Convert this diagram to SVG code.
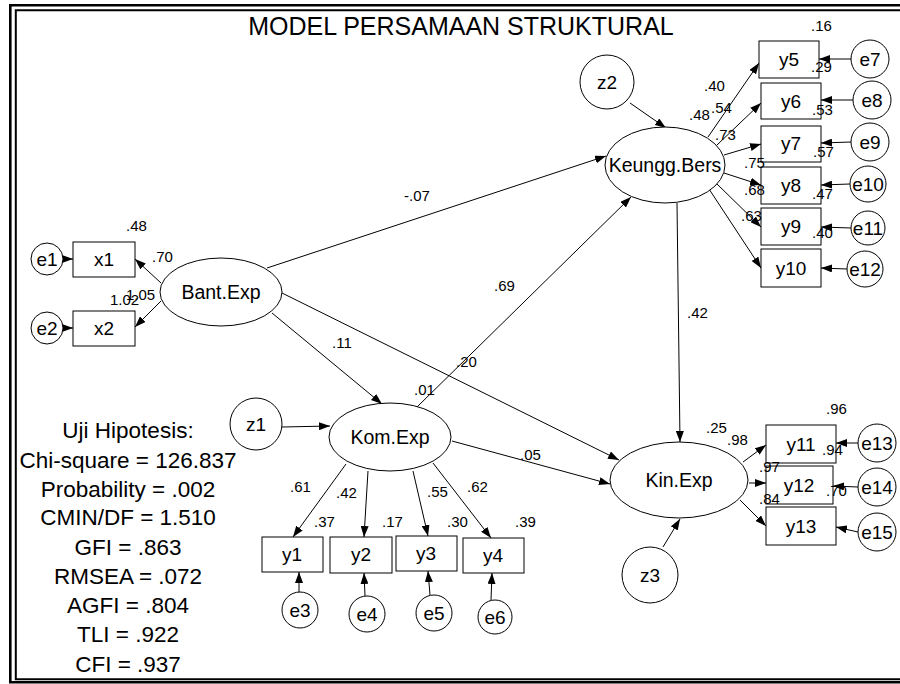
<svg xmlns="http://www.w3.org/2000/svg" width="900" height="684" viewBox="0 0 900 684">
<style>
  text { font-family: "Liberation Sans", Arial, sans-serif; fill: #000; }
  .shape { fill: #fff; stroke: #000; stroke-width: 1; }
  .lat { font-size: 19.5px; text-anchor: middle; }
  .obs { font-size: 19px; text-anchor: middle; }
  .err { font-size: 19px; text-anchor: middle; }
  .lbl { font-size: 15px; }
  .stat { font-size: 22.5px; text-anchor: middle; }
  #connectors line { stroke: #000; stroke-width: 1; marker-end: url(#ah); }
</style>
<defs>
  <marker id="ah" markerWidth="11" markerHeight="8" refX="11" refY="4" orient="auto" markerUnits="userSpaceOnUse">
    <path d="M0,0 L11,4 L0,8 z" fill="#000"/>
  </marker>
</defs>
<rect x="0" y="0" width="900" height="684" fill="#fff"/>
<g id="frame" fill="none" stroke="#000">
  <path d="M900,5.3 H10.3 V682.3 H900" stroke-width="2.6"/>
  <path d="M900,10.3 H15.8 V679.3 H900" stroke-width="2"/>
</g>
<text x="461" y="35" style="font-size:25px;text-anchor:middle">MODEL PERSAMAAN STRUKTURAL</text>

<g id="connectors">
  <line x1="161" y1="283" x2="135" y2="259"/>
  <line x1="161" y1="301" x2="135" y2="327"/>
  <line x1="63" y1="259" x2="73" y2="259"/>
  <line x1="63" y1="328" x2="73" y2="328"/>
  <line x1="267" y1="268" x2="606" y2="156"/>
  <line x1="272" y1="313" x2="382" y2="404"/>
  <line x1="282" y1="293" x2="619" y2="460"/>
  <line x1="417" y1="407" x2="631" y2="197"/>
  <line x1="452" y1="441" x2="610" y2="484"/>
  <line x1="677" y1="203" x2="680" y2="442"/>
  <line x1="630" y1="103" x2="666" y2="128"/>
  <line x1="282" y1="427" x2="330" y2="426"/>
  <line x1="663" y1="547" x2="680" y2="519"/>
  <line x1="708" y1="137" x2="759" y2="63"/>
  <line x1="717" y1="145" x2="761" y2="103"/>
  <line x1="724" y1="155" x2="761" y2="144"/>
  <line x1="724" y1="173" x2="761" y2="185"/>
  <line x1="717" y1="184" x2="761" y2="227"/>
  <line x1="709" y1="189" x2="761" y2="268"/>
  <line x1="743" y1="462" x2="766" y2="445"/>
  <line x1="749" y1="483" x2="766" y2="483"/>
  <line x1="740" y1="500" x2="766" y2="526"/>
  <line x1="346" y1="464" x2="293" y2="537"/>
  <line x1="368" y1="471" x2="364" y2="537"/>
  <line x1="413" y1="471" x2="428" y2="536"/>
  <line x1="433" y1="463" x2="491" y2="538"/>
  <line x1="851" y1="59" x2="819" y2="59"/>
  <line x1="853" y1="100" x2="821" y2="100"/>
  <line x1="851" y1="142" x2="821" y2="143"/>
  <line x1="850" y1="184" x2="821" y2="185"/>
  <line x1="851" y1="228" x2="821" y2="227"/>
  <line x1="847" y1="269" x2="821" y2="268"/>
  <line x1="858" y1="443" x2="836" y2="443"/>
  <line x1="858" y1="487" x2="833" y2="486"/>
  <line x1="858" y1="532" x2="836" y2="527"/>
  <line x1="299" y1="592" x2="299" y2="572"/>
  <line x1="365" y1="596" x2="364" y2="573"/>
  <line x1="430" y1="595" x2="428" y2="571"/>
  <line x1="491" y1="600" x2="492" y2="573"/>
</g>

<g id="BantExp"><ellipse class="shape" cx="221" cy="292" rx="61" ry="34"/><text class="lat" x="221" y="299">Bant.Exp</text></g>
<g id="KeunggBers"><ellipse class="shape" cx="665" cy="165" rx="60" ry="38"/><text class="lat" x="665" y="172">Keungg.Bers</text></g>
<g id="KomExp"><ellipse class="shape" cx="390" cy="437" rx="61" ry="34"/><text class="lat" x="390" y="444">Kom.Exp</text></g>
<g id="KinExp"><ellipse class="shape" cx="679" cy="480" rx="69" ry="38"/><text class="lat" x="679" y="487">Kin.Exp</text></g>

<g id="z1"><circle class="shape" cx="256" cy="424" r="26"/><text class="err" x="256" y="431">z1</text></g>
<g id="z2"><circle class="shape" cx="607" cy="82" r="27"/><text class="err" x="607" y="89">z2</text></g>
<g id="z3"><circle class="shape" cx="650" cy="575" r="28"/><text class="err" x="650" y="582">z3</text></g>

<g id="x1"><rect class="shape" x="73" y="242" width="62" height="35"/><text class="obs" x="104" y="266">x1</text></g>
<g id="x2"><rect class="shape" x="73" y="311" width="62" height="35"/><text class="obs" x="104" y="335">x2</text></g>
<g id="y5"><rect class="shape" x="759" y="41" width="60" height="37"/><text class="obs" x="789" y="66">y5</text></g>
<g id="y6"><rect class="shape" x="761" y="83" width="60" height="36"/><text class="obs" x="791" y="108">y6</text></g>
<g id="y7"><rect class="shape" x="761" y="126" width="60" height="36"/><text class="obs" x="791" y="150">y7</text></g>
<g id="y8"><rect class="shape" x="761" y="167" width="60" height="37"/><text class="obs" x="791" y="192">y8</text></g>
<g id="y9"><rect class="shape" x="761" y="208" width="60" height="37"/><text class="obs" x="791" y="233">y9</text></g>
<g id="y10"><rect class="shape" x="761" y="249" width="60" height="38"/><text class="obs" x="791" y="275">y10</text></g>
<g id="y11"><rect class="shape" x="766" y="425" width="70" height="38"/><text class="obs" x="801" y="451">y11</text></g>
<g id="y12"><rect class="shape" x="766" y="466" width="67" height="38"/><text class="obs" x="799" y="492">y12</text></g>
<g id="y13"><rect class="shape" x="766" y="507" width="70" height="38"/><text class="obs" x="801" y="533">y13</text></g>
<g id="y1"><rect class="shape" x="262" y="537" width="61" height="35"/><text class="obs" x="292" y="561">y1</text></g>
<g id="y2"><rect class="shape" x="330" y="537" width="62" height="36"/><text class="obs" x="361" y="561">y2</text></g>
<g id="y3"><rect class="shape" x="396" y="536" width="61" height="35"/><text class="obs" x="426" y="560">y3</text></g>
<g id="y4"><rect class="shape" x="463" y="538" width="61" height="35"/><text class="obs" x="493" y="562">y4</text></g>

<g id="e1"><circle class="shape" cx="47" cy="259" r="16"/><text class="err" x="47" y="266">e1</text></g>
<g id="e2"><circle class="shape" cx="47" cy="328" r="16"/><text class="err" x="47" y="335">e2</text></g>
<g id="e3"><circle class="shape" cx="300" cy="610" r="18"/><text class="err" x="300" y="617">e3</text></g>
<g id="e4"><circle class="shape" cx="367" cy="614" r="18"/><text class="err" x="367" y="621">e4</text></g>
<g id="e5"><circle class="shape" cx="434" cy="613" r="18"/><text class="err" x="434" y="620">e5</text></g>
<g id="e6"><circle class="shape" cx="495" cy="617" r="17"/><text class="err" x="495" y="624">e6</text></g>
<g id="e7"><circle class="shape" cx="870" cy="59" r="19"/><text class="err" x="870" y="66">e7</text></g>
<g id="e8"><circle class="shape" cx="872" cy="100" r="19"/><text class="err" x="872" y="107">e8</text></g>
<g id="e9"><circle class="shape" cx="870" cy="142" r="19"/><text class="err" x="870" y="149">e9</text></g>
<g id="e10"><circle class="shape" cx="868" cy="184" r="18"/><text class="err" x="868" y="191">e10</text></g>
<g id="e11"><circle class="shape" cx="868" cy="228" r="17"/><text class="err" x="868" y="235">e11</text></g>
<g id="e12"><circle class="shape" cx="865" cy="269" r="18"/><text class="err" x="865" y="276">e12</text></g>
<g id="e13"><circle class="shape" cx="877" cy="443" r="19"/><text class="err" x="877" y="450">e13</text></g>
<g id="e14"><circle class="shape" cx="877" cy="487" r="19"/><text class="err" x="877" y="494">e14</text></g>
<g id="e15"><circle class="shape" cx="877" cy="532" r="19"/><text class="err" x="877" y="539">e15</text></g>

<g id="labels" class="lbl">
  <text class="lbl" x="811" y="31">.16</text>
  <text class="lbl" x="811" y="72">.29</text>
  <text class="lbl" x="704" y="91">.40</text>
  <text class="lbl" x="689" y="120">.48</text>
  <text class="lbl" x="711" y="113">.54</text>
  <text class="lbl" x="812" y="115">.53</text>
  <text class="lbl" x="715" y="140">.73</text>
  <text class="lbl" x="813" y="157">.57</text>
  <text class="lbl" x="744" y="168">.75</text>
  <text class="lbl" x="744" y="195">.68</text>
  <text class="lbl" x="812" y="199">.47</text>
  <text class="lbl" x="741" y="221">.63</text>
  <text class="lbl" x="812" y="238">.40</text>
  <text class="lbl" x="126" y="231">.48</text>
  <text class="lbl" x="152" y="262">.70</text>
  <text class="lbl" x="126" y="300">1.05</text>
  <text class="lbl" x="110" y="305">1.02</text>
  <text class="lbl" x="404" y="201">-.07</text>
  <text class="lbl" x="494" y="291">.69</text>
  <text class="lbl" x="332" y="348">.11</text>
  <text class="lbl" x="456" y="367">.20</text>
  <text class="lbl" x="414" y="395">.01</text>
  <text class="lbl" x="687" y="318">.42</text>
  <text class="lbl" x="520" y="460">.05</text>
  <text class="lbl" x="290" y="492">.61</text>
  <text class="lbl" x="336" y="498">.42</text>
  <text class="lbl" x="427" y="497">.55</text>
  <text class="lbl" x="467" y="492">.62</text>
  <text class="lbl" x="314" y="527">.37</text>
  <text class="lbl" x="382" y="527">.17</text>
  <text class="lbl" x="447" y="527">.30</text>
  <text class="lbl" x="515" y="527">.39</text>
  <text class="lbl" x="826" y="414">.96</text>
  <text class="lbl" x="706" y="433">.25</text>
  <text class="lbl" x="727" y="445">.98</text>
  <text class="lbl" x="822" y="455">.94</text>
  <text class="lbl" x="759" y="472">.97</text>
  <text class="lbl" x="826" y="496">.70</text>
  <text class="lbl" x="759" y="504">.84</text>
</g>

<g id="stats">
  <text class="stat" x="128" y="438">Uji Hipotesis:</text>
  <text class="stat" x="128" y="468">Chi-square = 126.837</text>
  <text class="stat" x="128" y="497">Probability = .002</text>
  <text class="stat" x="128" y="525">CMIN/DF = 1.510</text>
  <text class="stat" x="128" y="555">GFI = .863</text>
  <text class="stat" x="128" y="584">RMSEA = .072</text>
  <text class="stat" x="128" y="613">AGFI = .804</text>
  <text class="stat" x="128" y="642">TLI = .922</text>
  <text class="stat" x="128" y="672">CFI = .937</text>
</g>
</svg>
